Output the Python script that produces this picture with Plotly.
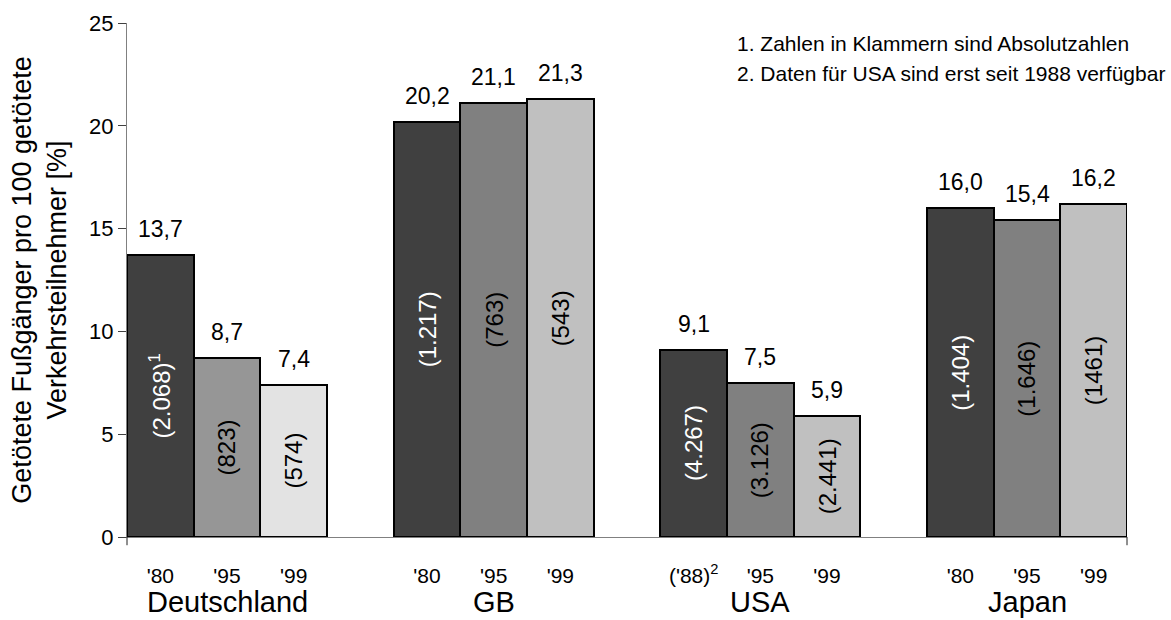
import plotly.graph_objects as go

countries = ["Deutschland", "GB", "USA", "Japan"]
series_names = ["1980", "1995", "1999"]
year_labels = [
    ["'80", "'95", "'99"],
    ["'80", "'95", "'99"],
    ["('88)<sup>2</sup>", "'95", "'99"],
    ["'80", "'95", "'99"],
]
values = [
    [13.7, 20.2, 9.1, 16.0],   # '80 ('88 for USA)
    [8.7, 21.1, 7.5, 15.4],    # '95
    [7.4, 21.3, 5.9, 16.2],    # '99
]
absolute_labels = [
    ["(2.068)<sup>1</sup>", "(1.217)", "(4.267)", "(1.404)"],
    ["(823)", "(763)", "(3.126)", "(1.646)"],
    ["(574)", "(543)", "(2.441)", "(1461)"],
]
footnotes = [
    "1. Zahlen in Klammern sind Absolutzahlen",
    "2. Daten für USA sind erst seit 1988 verfügbar",
]

colors = [
    ["#404040", "#404040", "#404040", "#404040"],
    ["#969696", "#808080", "#808080", "#808080"],
    ["#e3e3e3", "#c0c0c0", "#c0c0c0", "#c0c0c0"],
]
text_colors = ["white", "black", "black"]

FONT = "Liberation Sans, Arial, sans-serif"
bar_w = 0.25

fig = go.Figure()
tickvals, ticktext = [], []
annotations = []
for k in range(3):
    xs = [i + (k - 1) * bar_w for i in range(len(countries))]
    fig.add_trace(go.Bar(
        x=xs, y=values[k], width=bar_w, name=series_names[k],
        marker=dict(color=colors[k], line=dict(color="black", width=2)),
        showlegend=False, hoverinfo="skip",
    ))
    for i, x in enumerate(xs):
        tickvals.append(x)
        ticktext.append(year_labels[i][k])
        # value label above bar
        annotations.append(dict(
            x=x, y=values[k][i], xref="x", yref="y",
            text=f"{values[k][i]:.1f}".replace(".", ","),
            showarrow=False, yanchor="bottom", yshift=11,
            font=dict(family=FONT, size=23, color="black"),
        ))
        # absolute number inside bar (rotated)
        annotations.append(dict(
            x=x, y=values[k][i] / 2, xref="x", yref="y",
            text=absolute_labels[k][i], textangle=-90,
            showarrow=False, xanchor="center", yanchor="middle",
            font=dict(family=FONT, size=24, color=text_colors[k]),
        ))

for i, c in enumerate(countries):
    annotations.append(dict(
        x=i, y=0, xref="x", yref="paper", text=c, showarrow=False,
        yanchor="top", yshift=-47,
        font=dict(family=FONT, size=29, color="black"),
    ))

for j, note in enumerate(footnotes):
    annotations.append(dict(
        x=0.608, y=0.961 - j * 0.06, xref="paper", yref="paper", text=note,
        showarrow=False, xanchor="left", yanchor="middle",
        font=dict(family=FONT, size=21, color="black"),
    ))

# small end ticks on the category axis
shapes = [
    dict(type="line", xref="paper", yref="paper", x0=xe, x1=xe, y0=0, y1=-0.016,
         line=dict(color="#202020", width=1))
    for xe in (0, 1)
]

fig.update_layout(
    width=1171, height=620,
    margin=dict(l=127, r=44, t=23, b=83),
    paper_bgcolor="white", plot_bgcolor="white",
    bargap=0, barmode="overlay",
    font=dict(family=FONT, color="black"),
    annotations=annotations, shapes=shapes,
)
fig.update_xaxes(
    range=[-0.375, 3.375], tickvals=tickvals, ticktext=ticktext,
    showgrid=False, zeroline=False, showline=True, linecolor="#808080",
    linewidth=1, ticks="", ticklabelstandoff=20, automargin=False,
    tickfont=dict(family=FONT, size=21, color="black"),
)
fig.update_yaxes(
    range=[0, 25], dtick=5, showgrid=False, zeroline=False,
    showline=True, linecolor="#808080", linewidth=1, automargin=False,
    ticks="outside", ticklen=8, tickcolor="#404040",
    tickfont=dict(family=FONT, size=22, color="black"),
    title=dict(text="Getötete Fußgänger pro 100 getötete<br>Verkehrsteilnehmer [%]",
               font=dict(family=FONT, size=27, color="black"), standoff=14),
)

fig.write_html(
    "out.html",
    config={"displayModeBar": False},
    post_script="document.body.style.margin='0';document.body.style.overflow='hidden';",
)
